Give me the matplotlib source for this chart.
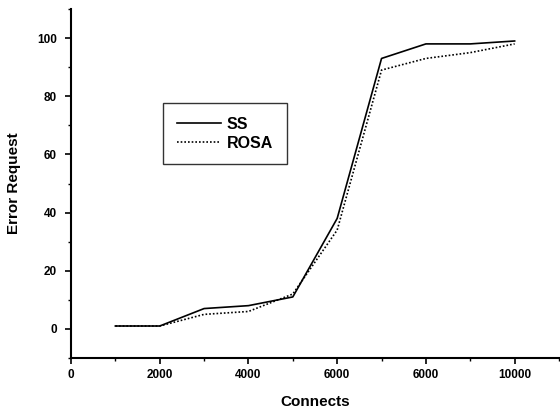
import matplotlib
matplotlib.use("Agg")
import matplotlib.pyplot as plt
from matplotlib.ticker import MultipleLocator

# Data
connects_ss = [1000, 2000, 3000, 4000, 5000, 6000, 7000, 8000, 9000, 10000]
error_ss = [1, 1, 7, 8, 11, 38, 93, 98, 98, 99]
connects_rosa = [1000, 2000, 3000, 4000, 5000, 6000, 7000, 8000, 9000, 10000]
error_rosa = [1, 1, 5, 6, 12, 34, 89, 93, 95, 98]

x_ticks = [0, 2000, 4000, 6000, 8000, 10000]
x_tick_labels = ["0", "2000", "4000", "6000", "6000", "10000"]
y_ticks = [0, 20, 40, 60, 80, 100]
y_tick_labels = ["0", "20", "40", "60", "80", "100"]

plt.rcParams['font.family'] = ['Liberation Sans', 'DejaVu Sans']

fig = plt.figure(figsize=(5.6, 4.09), dpi=100)
ax = fig.add_axes([71/560, 1-358/409, (559-71)/560, (358-9)/409])

ax.plot(connects_ss, error_ss, color='black', linewidth=1.2, label='SS')
ax.plot(connects_rosa, error_rosa, color='black', linewidth=1.2,
        linestyle=(0, (1, 1.2)), label='ROSA')

ax.set_xlim(0, 11000)
ax.set_ylim(-10, 110)
ax.set_xticks(x_ticks)
ax.set_xticklabels(x_tick_labels, fontsize=8.5, fontweight='bold')
ax.set_yticks(y_ticks)
ax.set_yticklabels(y_tick_labels, fontsize=8.5, fontweight='bold')
ax.xaxis.set_minor_locator(MultipleLocator(1000))
ax.yaxis.set_minor_locator(MultipleLocator(10))
ax.tick_params(which='major', direction='out', length=4, width=1.2, pad=4)
ax.tick_params(axis='y', which='major', pad=6)
ax.tick_params(which='minor', direction='out', length=2.5, width=1.0)

for s in ['top', 'right']:
    ax.spines[s].set_visible(False)
for s in ['left', 'bottom']:
    ax.spines[s].set_linewidth(1.5)

ax.set_xlabel('Connects', fontsize=11, fontweight='bold', labelpad=10)
ax.set_ylabel('Error Request', fontsize=11, fontweight='bold', labelpad=12)

leg = ax.legend(loc='upper left', bbox_to_anchor=((163-71)/488, (358-103)/349),
                borderaxespad=0, frameon=True, fancybox=False, edgecolor='black',
                prop={'size': 11.5, 'weight': 'bold'}, handlelength=2.8,
                handletextpad=0.35, labelspacing=0.25, borderpad=0.85)
leg.get_frame().set_linewidth(1.0)

fig.savefig('out.png', dpi=100)
